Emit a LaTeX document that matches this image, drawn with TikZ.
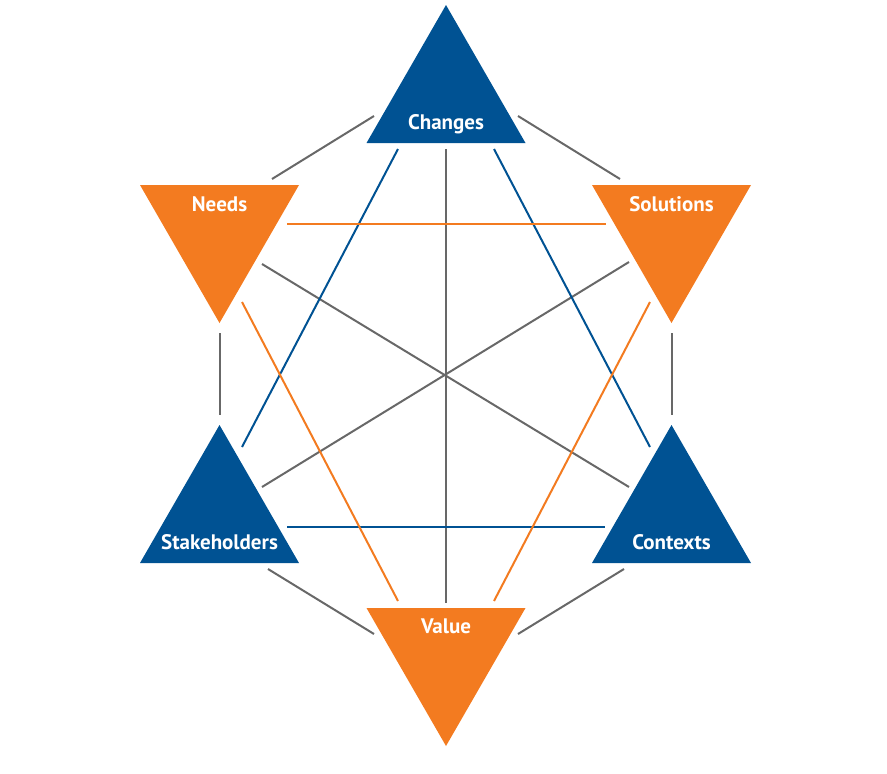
\documentclass[tikz,border=0pt]{standalone}
\usepackage{fontspec}
\setmainfont{PT Sans}
\definecolor{tblue}{RGB}{0,82,147}
\definecolor{torange}{RGB}{243,123,32}
\definecolor{tgray}{RGB}{104,104,104}
\begin{document}
\begin{tikzpicture}[x=1pt,y=-1pt,
  link/.style={line width=2pt},
  graylink/.style={link,draw=tgray},
  bluelink/.style={link,draw=tblue},
  orangelink/.style={link,draw=torange},
  lbl/.style={text=white,font=\fontsize{21}{21}\selectfont\bfseries,inner sep=0pt,anchor=base},
]
\useasboundingbox (0,0) rectangle (887,774);
% triangles
\fill[tblue] (446,5) -- (366.5,143) -- (525.5,143) -- cycle;
\fill[torange] (140,185) -- (299,185) -- (219.5,323) -- cycle;
\fill[torange] (592,185) -- (751,185) -- (671.5,323) -- cycle;
\fill[tblue] (219.5,425) -- (140,563) -- (299,563) -- cycle;
\fill[tblue] (671.5,425) -- (592,563) -- (751,563) -- cycle;
\fill[torange] (366.5,608) -- (525.5,608) -- (446,746) -- cycle;
% labels
\node[lbl] (ch) at (446,129) {Changes};
\node[lbl] (ne) at (219.5,211) {Needs};
\node[lbl] (so) at (671.5,211) {Solutions};
\node[lbl] (st) at (219.5,549) {Stakeholders};
\node[lbl] (co) at (671.5,549) {Contexts};
\node[lbl] (va) at (446,633) {Value};
% connector end points
\coordinate (a1) at (374,116);   \coordinate (a2) at (272,179);
\coordinate (b1) at (518,116);   \coordinate (b2) at (620,179);
\coordinate (c1) at (219.5,333); \coordinate (c2) at (219.5,415);
\coordinate (d1) at (671.5,333); \coordinate (d2) at (671.5,415);
\coordinate (e1) at (268,569);   \coordinate (e2) at (374,634);
\coordinate (f1) at (624,569);   \coordinate (f2) at (518,634);
\coordinate (g1) at (446,149);   \coordinate (g2) at (446,603);
\coordinate (h1) at (262,264);   \coordinate (h2) at (629,487);
\coordinate (i1) at (629,262);   \coordinate (i2) at (262,487);
\coordinate (j1) at (398,149);   \coordinate (j2) at (242,447);
\coordinate (k1) at (494,149);   \coordinate (k2) at (650,447);
\coordinate (l1) at (287,527);   \coordinate (l2) at (605,527);
\coordinate (m1) at (287,224);   \coordinate (m2) at (606,224);
\coordinate (n1) at (242,302);   \coordinate (n2) at (398,601);
\coordinate (o1) at (650,302);   \coordinate (o2) at (494,601);
% gray
\draw[graylink] (a1) -- (a2);
\draw[graylink] (b1) -- (b2);
\draw[graylink] (c1) -- (c2);
\draw[graylink] (d1) -- (d2);
\draw[graylink] (e1) -- (e2);
\draw[graylink] (f1) -- (f2);
\draw[graylink] (g1) -- (g2);
\draw[graylink] (h1) -- (h2);
\draw[graylink] (i1) -- (i2);
% blue
\draw[bluelink] (j1) -- (j2);
\draw[bluelink] (k1) -- (k2);
\draw[bluelink] (l1) -- (l2);
% orange
\draw[orangelink] (m1) -- (m2);
\draw[orangelink] (n1) -- (n2);
\draw[orangelink] (o1) -- (o2);
\end{tikzpicture}
\end{document}
